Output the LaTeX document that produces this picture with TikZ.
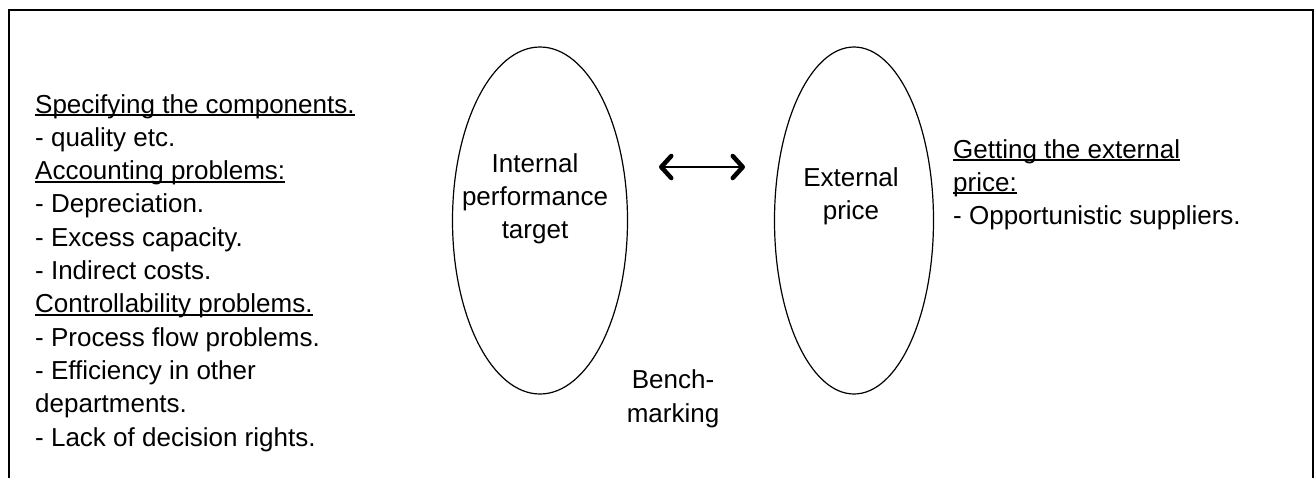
\documentclass[tikz,border=0pt]{standalone}
\usepackage{fontspec}
\setmainfont{Liberation Sans}
\usepackage{tikz}
\usetikzlibrary{arrows.meta,shapes.geometric}
\newlength\hdrwd
\newcommand\hdr[1]{\settowidth\hdrwd{#1}\makebox[0pt][l]{\rule[-3pt]{\hdrwd}{1.6pt}}#1}
\tikzset{
  frame/.style={draw=black,line width=1.8pt},
  oval/.style={draw=black,line width=1.2pt,ellipse,inner sep=0pt},
  note/.style={font=\fontsize{26}{33}\selectfont,anchor=base west,inner sep=0pt},
  ctext/.style={font=\fontsize{26}{33}\selectfont,anchor=base,inner sep=0pt},
  twoway/.style={{Straight Barb[length=10pt,width=22pt,line width=4.5pt,round]}-{Straight Barb[length=10pt,width=22pt,line width=4.5pt,round]},line width=2.6pt}
}

\begin{document}
\begin{tikzpicture}[x=1pt,y=-1pt]
  \useasboundingbox (0,0) rectangle (1315,477);
  \draw[frame] (9,480) -- (9,10) -- (1313,10) -- (1313,480);
  % the two ovals
  \node[oval,minimum width=175,minimum height=347] (inner) at (540,220.5) {};
  \node[oval,minimum width=159,minimum height=347] (outer) at (854,220.5) {};
  \node[ctext] (int1) at (535,172) {Internal};
  \node[ctext] (int2) at (535,205) {performance};
  \node[ctext] (int3) at (535,238) {target};
  \node[ctext] (ext1) at (851,186) {External};
  \node[ctext] (ext2) at (851,219) {price};
  \node[ctext] (bench1) at (673,388) {Bench-};
  \node[ctext] (bench2) at (673,422) {marking};
  \coordinate (arrl) at (659,167);
  \coordinate (arrr) at (745,167);
  \draw[twoway] (arrl) -- (arrr);
  % left list
  \foreach \txt [count=\i] in {{\hdr{Specifying the components.}},{- quality etc.},
      {\hdr{Accounting problems:}},{- Depreciation.},{- Excess capacity.},
      {- Indirect costs.},{\hdr{Controllability problems.}},{- Process flow problems.},
      {- Efficiency in other},{departments.},{- Lack of decision rights.}}
    \node[note] (left\i) at (35,{113+33.3*(\i-1)}) {\txt};
  % right list
  \node[note] (right1) at (953,158) {\hdr{Getting the external}};
  \node[note] (right2) at (953,191) {\hdr{price:}};
  \node[note] (right3) at (953,224) {- Opportunistic suppliers.};
\end{tikzpicture}
\end{document}
